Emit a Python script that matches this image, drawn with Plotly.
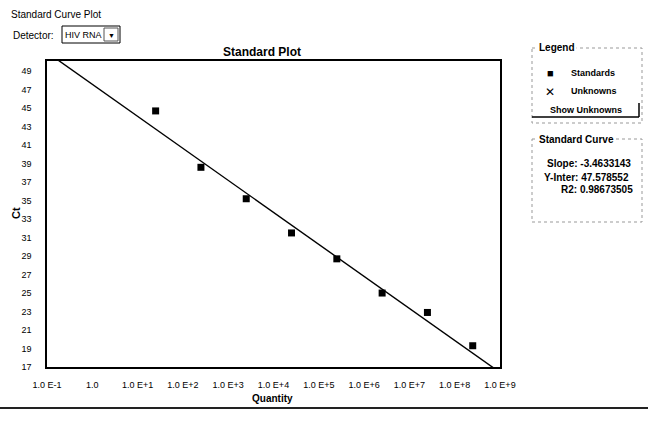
import numpy as np
import plotly.graph_objects as go

# ---- data ----
quantities = [2.5e1, 2.5e2, 2.5e3, 2.5e4, 2.5e5, 2.5e6, 2.5e7, 2.5e8]
ct_values = [44.7, 38.6, 35.2, 31.5, 28.7, 25.0, 22.9, 19.3]
slope = -3.4633143
y_inter = 47.578552
r2 = 0.98673505
x_tick_vals = [1e-1, 1e0, 1e1, 1e2, 1e3, 1e4, 1e5, 1e6, 1e7, 1e8, 1e9]
x_tick_text = ["1.0 E-1", "1.0", "1.0 E+1", "1.0 E+2", "1.0 E+3", "1.0 E+4",
               "1.0 E+5", "1.0 E+6", "1.0 E+7", "1.0 E+8", "1.0 E+9"]
y_tick_vals = list(range(17, 50, 2))
detector = "HIV RNA"

W, H = 648, 423
L, R, T, B = 47, 500, 61, 367
FONT = "Arial, Liberation Sans, sans-serif"


def px(x):
    return (x - L) / (R - L)


def py(y):
    return (B - y) / (B - T)


fig = go.Figure()

# standard curve line from slope/intercept
line_logq = np.array([-1.0, 9.0])
fig.add_trace(go.Scatter(
    x=10 ** line_logq, y=slope * line_logq + y_inter, mode="lines",
    line=dict(color="black", width=1.4), showlegend=False, hoverinfo="skip"))

fig.add_trace(go.Scatter(
    x=quantities, y=ct_values, mode="markers",
    marker=dict(symbol="square", size=7, color="black"),
    showlegend=False, name="Standards"))

fig.update_layout(
    width=W, height=H,
    margin=dict(l=L, r=W - R, t=T, b=H - B),
    paper_bgcolor="white", plot_bgcolor="white",
    font=dict(family=FONT, color="black", size=9),
    xaxis=dict(type="log", range=[-1, 9], tickvals=x_tick_vals, ticktext=x_tick_text,
               showgrid=False, zeroline=False, showline=True, linecolor="black",
               linewidth=1.5, mirror=True, ticks="", ticklabelstandoff=8,
               tickfont=dict(size=9, family=FONT)),
    yaxis=dict(range=[17, 50.1], tickvals=y_tick_vals, showgrid=False, zeroline=False,
               showline=True, linecolor="black", linewidth=1.5, mirror=True, ticks="",
               ticklabelstandoff=12, tickfont=dict(size=9, family=FONT)),
)

ann = []
shapes = []


def text(x, y, s, size=10, bold=False, anchor="left", bg=None, angle=0):
    d = dict(x=px(x), y=py(y), xref="paper", yref="paper", text=("<b>%s</b>" % s) if bold else s,
             showarrow=False, xanchor=anchor, yanchor="middle", textangle=angle,
             font=dict(family=FONT, size=size, color="black"))
    if bg:
        d["bgcolor"] = bg
        d["borderpad"] = 1
    ann.append(d)


def rect(x0, y0, x1, y1, color="black", width=1, dash="solid"):
    shapes.append(dict(type="rect", xref="paper", yref="paper", x0=px(x0), x1=px(x1),
                       y0=py(y0), y1=py(y1), line=dict(color=color, width=width, dash=dash),
                       fillcolor="rgba(0,0,0,0)", layer="above"))


def line(x0, y0, x1, y1, color="black", width=1, dash="solid"):
    shapes.append(dict(type="line", xref="paper", yref="paper", x0=px(x0), x1=px(x1),
                       y0=py(y0), y1=py(y1), line=dict(color=color, width=width, dash=dash)))


# header
text(9, 14, "Standard Curve Plot", size=10)
text(11, 35, "Detector:", size=10)
rect(62, 26, 120, 43, color="black", width=1)
text(63, 35, detector, size=9)
rect(104, 28, 118, 41, color="#555", width=1)
text(111, 35, "▼", size=7, anchor="center")

# plot title and axis titles
text(262, 52, "Standard Plot", size=12, bold=True, anchor="center")
text(16, 213, "Ct", size=11, bold=True, anchor="center", angle=-90)
text(272, 398, "Quantity", size=10, bold=True, anchor="center")

# bottom rule
line(0, 408, W, 408, color="#222", width=2)

# legend box
rect(532, 48, 642, 123, color="#999", width=1, dash="dot")
text(537, 48, "Legend", size=10, bold=True, bg="white")
text(550, 73, "■", size=11, anchor="center")
text(569, 73, "Standards", size=9, bold=True)
text(550, 92, "✕", size=12, anchor="center")
text(569, 91, "Unknowns", size=9, bold=True)
text(586, 110, "Show Unknowns", size=9, bold=True, anchor="center")
line(532, 117, 639, 117, color="black", width=1.5)
line(639, 103, 639, 117, color="black", width=1.5)

# standard curve box
rect(532, 139, 642, 222, color="#999", width=1, dash="dot")
text(537, 139, "Standard Curve", size=10, bold=True, bg="white")
text(633, 163, "Slope: %.7f" % slope, size=10, bold=True, anchor="right")
text(631, 177, "Y-Inter: %.6f" % y_inter, size=10, bold=True, anchor="right")
text(635, 189, "R2: %.8f" % r2, size=10, bold=True, anchor="right")

fig.update_layout(annotations=ann, shapes=shapes)
fig.write_html("out.html")
